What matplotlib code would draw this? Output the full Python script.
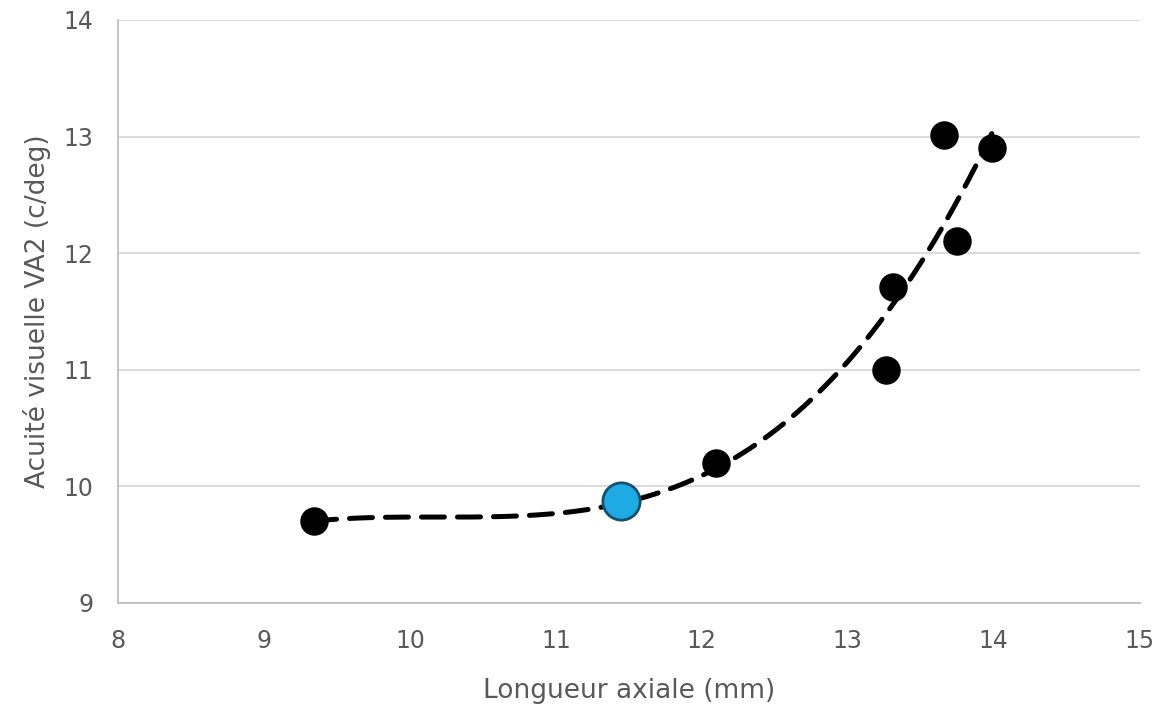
import numpy as np
import matplotlib
matplotlib.use("Agg")
import matplotlib.pyplot as plt

plt.rcParams['font.family'] = ['DejaVu Sans']

# Data
axial_length = [9.34, 12.10, 13.26, 13.31, 13.66, 13.75, 13.99]
acuity_va2 = [9.70, 10.20, 11.00, 11.71, 13.01, 12.10, 12.90]
highlight_x = [11.45]
highlight_y = [9.87]

x_ticks = [8, 9, 10, 11, 12, 13, 14, 15]
y_ticks = [9, 10, 11, 12, 13, 14]

fig = plt.figure(figsize=(11.64, 7.06), dpi=100)
ax = fig.add_axes([0.1014, 0.146, 0.8776, 0.8257])

# polynomial trendline (order 3) fitted to the data
coef = np.polyfit(axial_length, acuity_va2, 3)
xs = np.linspace(min(axial_length), max(axial_length), 200)
ax.plot(xs, np.polyval(coef, xs), color='black', lw=3.6, dashes=(4.6, 2.6),
        dash_capstyle='round', zorder=2)

ax.scatter(axial_length, acuity_va2, s=380, color='black', zorder=3)
ax.scatter(highlight_x, highlight_y, s=720, color='#1EABE3', edgecolor='#17506E',
           linewidth=2, zorder=4)

ax.set_xlim(8, 15)
ax.set_ylim(9, 14)
ax.set_xticks(x_ticks)
ax.set_yticks(y_ticks)
ax.grid(axis='y', color='#d9d9d9', lw=1.3)
ax.set_axisbelow(True)
for s in ['top', 'right']:
    ax.spines[s].set_visible(False)
for s in ['left', 'bottom']:
    ax.spines[s].set_color('#bfbfbf')
    ax.spines[s].set_linewidth(1.3)
ax.tick_params(length=0, labelsize=17, colors='#595959')
ax.tick_params(axis='x', pad=19)
ax.tick_params(axis='y', pad=18)
ax.set_xlabel('Longueur axiale (mm)', fontsize=19, color='#595959', labelpad=18)
ax.set_ylabel('Acuité visuelle VA2 (c/deg)', fontsize=19, color='#595959', labelpad=9)

fig.savefig('out.png', dpi=100)
